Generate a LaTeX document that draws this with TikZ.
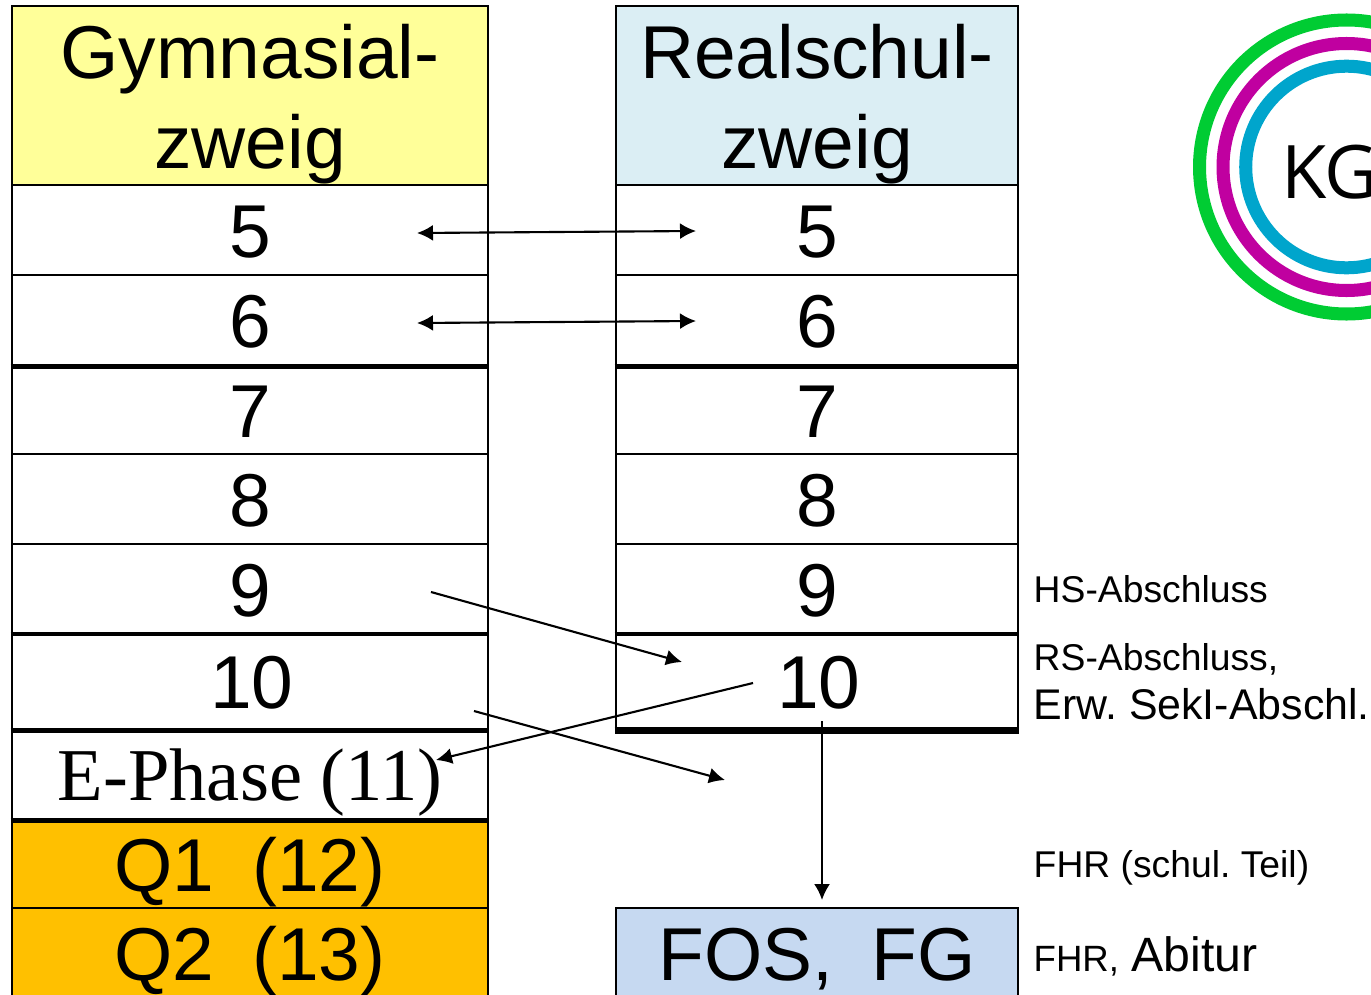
\documentclass[tikz,border=0pt]{standalone}
\usepackage{fontspec}
\setmainfont{Liberation Sans}
\newfontfamily\timesfont{Liberation Serif}
\newfontfamily\logofont{Open Sans}
\frenchspacing
\definecolor{gymyellow}{RGB}{255,255,153}
\definecolor{realblue}{RGB}{219,238,244}
\definecolor{qorange}{RGB}{255,192,0}
\definecolor{fosblue}{RGB}{198,217,241}
\definecolor{logogreen}{RGB}{0,204,51}
\definecolor{logopink}{RGB}{192,0,160}
\definecolor{logocyan}{RGB}{0,165,204}
\tikzset{
    bigtext/.style={font=\fontsize{21.3}{25.6}\selectfont,align=center,inner sep=0pt},
    baseoff/.style={text depth=0pt,text height=#1*0.02cm},
    gymcell/.style={draw,line width=0.8pt,minimum width=476*0.01cm,bigtext,baseoff=27.5},
    realcell/.style={draw,line width=0.8pt,minimum width=402*0.01cm,bigtext,baseoff=27.5},
    sidetext/.style={font=\fontsize{10.6}{13.6}\selectfont,anchor=west,align=left,inner sep=0pt},
    thickrule/.style={line width=1.5pt},
    midrule/.style={line width=1.1pt},
    linkarrow/.style={line width=0.6pt,-{Latex[length=16*0.01cm,width=16*0.01cm]}},
    bothway/.style={line width=0.6pt,{Latex[length=16*0.01cm,width=16*0.01cm]}-{Latex[length=16*0.01cm,width=16*0.01cm]}},
}
\usetikzlibrary{arrows.meta}
\begin{document}
\begin{tikzpicture}[x=0.01cm,y=-0.01cm]
    \clip (0,0) rectangle (1371,994);
    % left column
    \node[gymcell,fill=gymyellow,minimum height=179*0.01cm,baseoff=73] (ghead) at (250,95.5) {Gymnasial-\\zweig};
    \node[gymcell,minimum height=90*0.01cm] (g5) at (250,230) {5};
    \node[gymcell,minimum height=90*0.01cm] (g6) at (250,320) {6};
    \node[gymcell,minimum height=89*0.01cm] (g7) at (250,409.5) {7};
    \node[gymcell,minimum height=90*0.01cm] (g8) at (250,499) {8};
    \node[gymcell,minimum height=89*0.01cm] (g9) at (250,588.5) {9};
    \node[gymcell,minimum height=96*0.01cm,baseoff=27] (g10) at (250,681) {\hspace{0.05em}10};
    \node[gymcell,minimum height=90*0.01cm,font=\fontsize{21.2}{25}\timesfont,baseoff=26.5] (gephase) at (250,774) {E-Phase (11)};
    \node[gymcell,fill=qorange,minimum height=89*0.01cm,baseoff=27.5] (gq1) at (250,863.5) {Q1\hspace{0.51em}(12)};
    \node[gymcell,fill=qorange,minimum height=100*0.01cm,baseoff=22] (gq2) at (250,958) {Q2\hspace{0.51em}(13)};
    % right column
    \node[realcell,fill=realblue,minimum height=179*0.01cm,baseoff=73] (rhead) at (817,95.5) {Realschul-\\zweig};
    \node[realcell,minimum height=90*0.01cm] (r5) at (817,230) {5};
    \node[realcell,minimum height=90*0.01cm] (r6) at (817,320) {6};
    \node[realcell,minimum height=89*0.01cm] (r7) at (817,409.5) {7};
    \node[realcell,minimum height=90*0.01cm] (r8) at (817,499) {8};
    \node[realcell,minimum height=89*0.01cm] (r9) at (817,588.5) {9};
    \node[realcell,minimum height=96*0.01cm,baseoff=27] (r10) at (817,681) {\hspace{0.05em}10};
    \node[realcell,fill=fosblue,minimum height=100*0.01cm,baseoff=22] (rfos) at (817,958) {FOS,\hspace{0.51em}FG};
    % heavy rules
    \draw[thickrule] (g6.south west) -- (g6.south east);
    \draw[thickrule] (r6.south west) -- (r6.south east);
    \draw[midrule] (g9.south west) -- (g9.south east);
    \draw[midrule] (r9.south west) -- (r9.south east);
    \draw[thickrule] (g10.south west) -- (g10.south east);
    \draw[line width=2.2pt] (r10.south west) -- (r10.south east);
    \draw[thickrule] (gephase.south west) -- (gephase.south east);
    % free ends of the arrows
    \coordinate (a5l) at (417,233);
    \coordinate (a5r) at (696,231);
    \coordinate (a6l) at (417,323);
    \coordinate (a6r) at (696,321);
    \coordinate (a9s) at (431,592);
    \coordinate (a9e) at (682,662);
    \coordinate (b10s) at (753,683);
    \coordinate (b10e) at (436,760);
    \coordinate (c10s) at (474,711);
    \coordinate (c10e) at (725,780);
    \coordinate (d10s) at (822,721);
    \coordinate (d10e) at (822,900);
    \draw[bothway] (a5l) -- (a5r);
    \draw[bothway] (a6l) -- (a6r);
    \draw[linkarrow] (a9s) -- (a9e);
    \draw[linkarrow] (b10s) -- (b10e);
    \draw[linkarrow] (c10s) -- (c10e);
    \draw[linkarrow] (d10s) -- (d10e);
    % labels on the right
    \node[sidetext] (hs) at (1033,589) {HS-Abschluss};
    \node[sidetext,anchor=base west] (rs) at (1033,670) {RS-Abschluss,};
    \node[sidetext,font=\fontsize{12.2}{13.6}\selectfont,anchor=base west] (erw) at (1033,719) {Erw. SekI-Abschl.};
    \node[sidetext] (fhr) at (1033,868) {FHR (schul. Teil)};
    \node[sidetext,anchor=base west] (abi) at (1033,971) {\fontsize{10.4}{13}\selectfont FHR,\hspace{0.34em}\fontsize{13.7}{16}\selectfont Abitur};
    % logo
    \draw[logogreen,line width=3.7pt] (1346.5,167) circle (147);
    \draw[logopink,line width=3.7pt] (1346.5,167) circle (123.5);
    \draw[logocyan,line width=3.7pt] (1346.5,167) circle (100.8);
    \node[anchor=base west,inner sep=0pt,font=\fontsize{21}{26}\logofont] (kg) at (1281,198) {K\kern-0.03em G};
\end{tikzpicture}
\end{document}
